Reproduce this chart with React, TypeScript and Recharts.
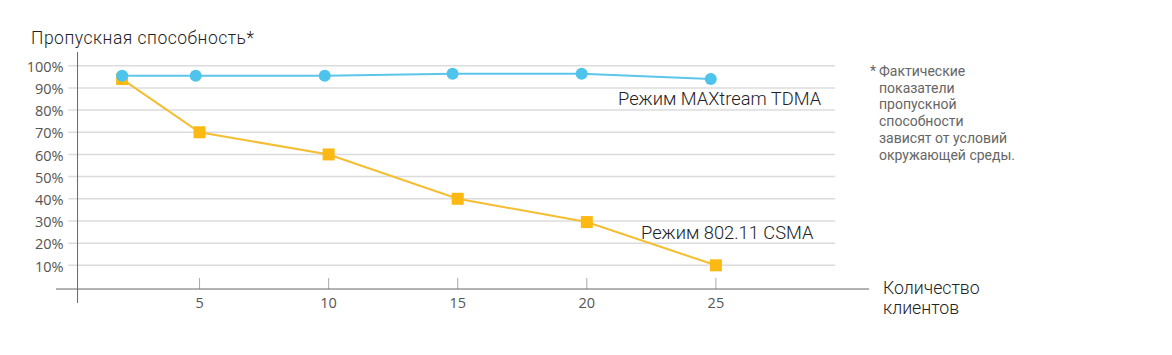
import React from 'react';
import { LineChart, Line, XAxis, YAxis, ReferenceLine } from 'recharts';

const clients = [2, 5, 10, 15, 20, 25];
const tdmaClientPos = [2, 4.85, 9.85, 14.8, 19.8, 24.8];
const tdmaValues = [95.5, 95.5, 95.5, 96.4, 96.4, 94];
const csmaValues = [94, 70, 60, 40, 29.5, 10];
const yTicks = [10, 20, 30, 40, 50, 60, 70, 80, 90, 100];
const xTicks = [5, 10, 15, 20, 25];
const footnoteLines = [
  'Фактические',
  'показатели',
  'пропускной',
  'способности',
  'зависят от условий',
  'окружающей среды.',
];

const tdmaData = tdmaClientPos.map((x, i) => ({ x, y: tdmaValues[i] }));
const csmaData = clients.map((x, i) => ({ x, y: csmaValues[i] }));

const X_DOMAIN: [number, number] = [-0.56, 30.93];
const Y_DOMAIN: [number, number] = [-7, 106.2];
const X_AXIS_Y = -0.7;
const Y_AXIS_X = 0.275;
const GRID_X0 = -0.085;
const GRID_X1 = 29.62;

const BLUE = '#4EC3EC';
const BLUE_LINE = '#5CC6EA';
const YELLOW = '#FDB913';
const YELLOW_LINE = '#F5BD30';
const TICK_FONT = '"Open Sans", sans-serif';
const LABEL_FONT = 'Roboto, sans-serif';

const YTick = (props: any) => {
  const { y, payload } = props;
  return (
    <text x={63.5} y={y + 1} dy="0.36em" textAnchor="end" fontFamily={TICK_FONT} fontSize={14.5} fill="#555">
      {payload.value}%
    </text>
  );
};

const XTick = (props: any) => {
  const { x, payload } = props;
  return (
    <text x={x} y={308} textAnchor="middle" fontFamily={TICK_FONT} fontSize={14.5} fill="#555">
      {payload.value}
    </text>
  );
};

const SquareDot = (props: any) => {
  const { cx, cy } = props;
  if (cx == null || cy == null) return null;
  return <rect x={cx - 6} y={cy - 6} width={12} height={12} fill={YELLOW} />;
};

export default function App() {
  return (
    <div style={{ position: 'absolute', left: 0, top: 0, width: 1172, height: 355, background: '#fff' }}>
      <LineChart
        width={1172}
        height={355}
        margin={{ top: 52, right: 303, bottom: 32, left: 55 }}
      >
        <XAxis
          type="number"
          dataKey="x"
          domain={X_DOMAIN}
          allowDataOverflow
          ticks={xTicks}
          interval={0}
          axisLine={false}
          tickLine={false}
          height={20}
          tick={<XTick />}
        />
        <YAxis
          type="number"
          domain={Y_DOMAIN}
          allowDataOverflow
          ticks={yTicks}
          interval={0}
          axisLine={false}
          tickLine={false}
          width={1}
          tick={<YTick />}
        />
        {yTicks.map((v) => (
          <ReferenceLine
            key={'g' + v}
            segment={[{ x: GRID_X0, y: v }, { x: GRID_X1, y: v }]}
            stroke="#dcdcdc"
            strokeWidth={1.5}
          />
        ))}
        {xTicks.map((v) => (
          <ReferenceLine
            key={'t' + v}
            segment={[{ x: v, y: X_AXIS_Y }, { x: v, y: 4.3 }]}
            stroke="#aaa"
            strokeWidth={1}
          />
        ))}
        <ReferenceLine
          segment={[{ x: X_DOMAIN[0], y: X_AXIS_Y }, { x: X_DOMAIN[1], y: X_AXIS_Y }]}
          stroke="#666"
          strokeWidth={1}
        />
        <ReferenceLine
          segment={[{ x: Y_AXIS_X, y: Y_DOMAIN[0] }, { x: Y_AXIS_X, y: Y_DOMAIN[1] }]}
          stroke="#666"
          strokeWidth={1}
        />
        <Line
          data={csmaData}
          dataKey="y"
          type="linear"
          stroke={YELLOW_LINE}
          strokeWidth={2}
          dot={<SquareDot />}
          activeDot={false}
          isAnimationActive={false}
        />
        <Line
          data={tdmaData}
          dataKey="y"
          type="linear"
          stroke={BLUE_LINE}
          strokeWidth={2}
          dot={{ r: 6, fill: BLUE, stroke: 'none' }}
          activeDot={false}
          isAnimationActive={false}
        />
      </LineChart>
      <svg
        width={1172}
        height={355}
        style={{ position: 'absolute', left: 0, top: 0, pointerEvents: 'none' }}
      >
        <text x={31} y={44} fontFamily={LABEL_FONT} fontWeight={300} fontSize={17.5} letterSpacing={0.5} fill="#222">
          Пропускная способность*
        </text>
        <text x={618} y={105} fontFamily={LABEL_FONT} fontWeight={300} fontSize={18.3} fill="#222">
          Режим MAXtream TDMA
        </text>
        <text x={641} y={239} fontFamily={LABEL_FONT} fontWeight={300} fontSize={18.3} fill="#222">
          Режим 802.11 CSMA
        </text>
        <text x={883} y={294.3} fontFamily={LABEL_FONT} fontWeight={300} fontSize={17.7} fill="#222">
          Количество
        </text>
        <text x={883} y={314.3} fontFamily={LABEL_FONT} fontWeight={300} fontSize={17.7} fill="#222">
          клиентов
        </text>
        <text x={870} y={76} fontFamily={LABEL_FONT} fontSize={14} fill="#666">
          *
        </text>
        {footnoteLines.map((line, i) => (
          <text key={line} x={879} y={76 + i * 16.7} fontFamily={LABEL_FONT} fontSize={14} fill="#666">
            {line}
          </text>
        ))}
      </svg>
    </div>
  );
}
